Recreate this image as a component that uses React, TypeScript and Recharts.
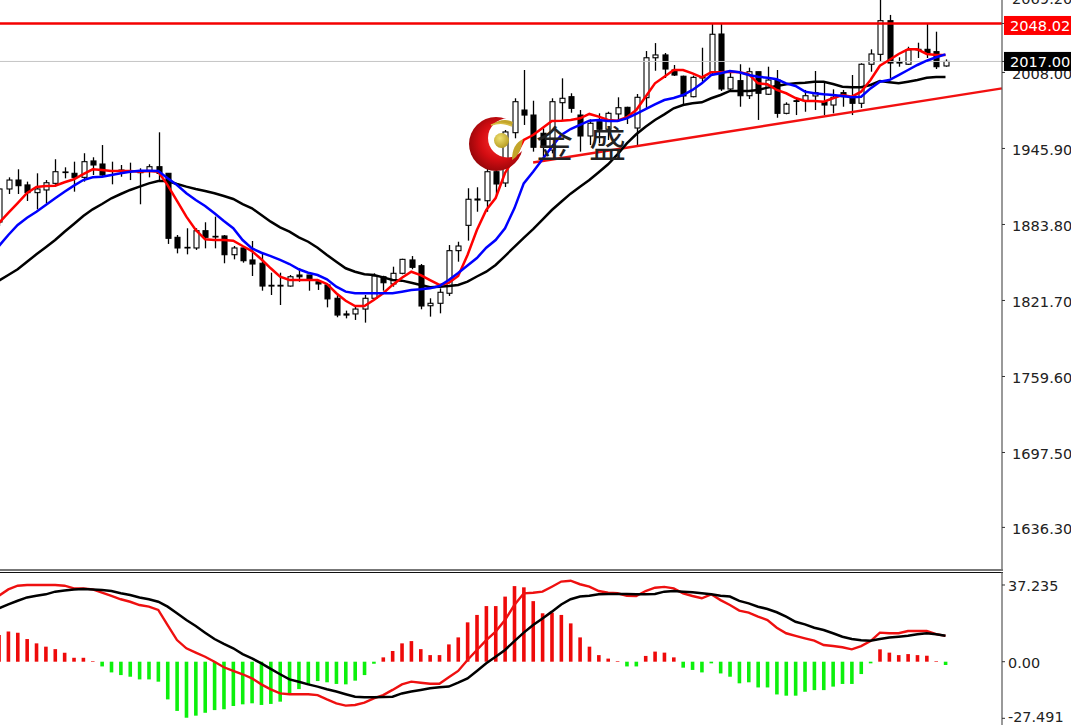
import React from "react";
import { ComposedChart, Bar, Line, XAxis, YAxis, ReferenceLine, Cell } from "recharts";

const highs = [
  1913.6,1922.3,1928.9,1918.8,1925.6,1920.1,1937.1,1930.5,1935.1,1942,
  1938.7,1948.7,1935.1,1932.4,1934.3,1929.7,1933,1959.1,1925.6,1875.2,
  1880.7,1880.7,1885.6,1890.2,1875.2,1866.2,1866.2,1870.3,1859.7,1844.4,
  1844.4,1842.5,1848,1842.5,1838.4,1835.7,1826.2,1813.4,1817.2,1826.2,
  1843.9,1841.9,1849.3,1855.8,1858,1851.5,1823.5,1831.6,1867,1869.7,
  1913.4,1914.2,1931,1939.2,1961,1986.9,2010,1984.9,1962.4,1986.9,
  2003.2,1991,1977.3,1969.7,1974.6,1975.9,1987.7,1980,1990.4,2025.5,
  2032,2023.9,2014.1,2005.4,2005.4,2028.2,2048.4,2048.4,2008.6,2014.7,
  2011.9,2008.6,2012.7,2010,1983.6,1986.9,1993.7,2009.2,1999.6,1994.2,
  1993.7,2005.9,2015.5,2026.9,2072,2055,2020.4,2029,2032.3,2047.6,
  2041.3,2018.7,
];
const opens = [
  1885.8,1912.8,1920.1,1916.1,1909.8,1912,1917.4,1926.4,1925.6,1922.3,
  1935.7,1933.2,1927.7,1928.3,1927.7,1927.7,1927.7,1931,1925.6,1873.3,
  1864.6,1864.6,1878.7,1873.6,1874.4,1859.1,1864.6,1854.8,1852.1,1834.1,
  1834.1,1833.5,1842.5,1842.5,1837,1834.4,1823.5,1810.7,1810.7,1814.7,
  1823.5,1841.1,1835.2,1843.9,1854.8,1850.1,1817.4,1819.4,1827.6,1862.4,
  1883.1,1903.8,1903.2,1926.9,1917.7,1958.8,1977.3,1973.2,1958.3,1944.6,
  1983.3,1988.2,1973.2,1956.1,1967.8,1961.6,1974.1,1979.5,1962.6,1987.4,
  2020,2022.3,2010,2004.9,1988.2,2004.3,2008.1,2039.4,1994.5,2001.3,
  1989,2008.6,1990.2,2001.8,1974.6,1984.9,1984.9,1988.8,1984.1,1981.4,
  1991.5,1987.7,1982.8,2014.7,2022.8,2050.3,2015.7,2014.7,2026.4,2026.9,
  2025,2013.3,
];
const closes = [
  1912.8,1920.1,1915.5,1909.8,1912.8,1917.9,1926.9,1926.7,1922.3,1935.1,
  1932.4,1924.2,1927.2,1927.5,1927.5,1926.1,1931,1925.6,1872.5,1864.6,
  1865.1,1878.7,1873.3,1874.1,1859.1,1864.6,1854.2,1851.5,1833.5,1833.5,
  1833.5,1841.1,1841.1,1838.4,1835.2,1823,1809.8,1809.8,1814.7,1823.5,
  1841.7,1836.2,1843.9,1855.3,1848.8,1817.2,1819.4,1828.4,1862.4,1866.2,
  1904.4,1904.6,1926.9,1916.9,1959.4,1984.1,1973.2,1946.9,1947.3,1984.1,
  1986.9,1978.7,1956.1,1966.5,1961.6,1974.6,1979.2,1971.9,1987.7,2020,
  2022.3,2010.8,2005.9,1988.8,2004,2003.5,2039.2,1994.5,2004,1989,
  2008.6,1991,2001.8,1974.6,1982,1984.3,1989,1991.5,1981.4,1987.7,
  1988.2,1982.8,2014.7,2023.1,2050.3,2015.7,2016.5,2026.4,2026.9,2023.7,
  2012.7,2017,
];
const lows = [
  1882.6,1908.7,1908.7,1903,1896.2,1901.1,1914.7,1921.5,1910.6,1918.8,
  1924.2,1922.8,1916.6,1922.8,1920.1,1900.3,1922.3,1918.8,1867.9,1860.2,
  1859.4,1863,1864.3,1864.3,1852.1,1855.3,1852.6,1841.7,1829.7,1826.2,
  1818,1833,1837,1829.7,1830.3,1816.1,1808,1807.1,1805.8,1803.6,
  1822.7,1829.7,1833,1843.1,1847.2,1814.5,1808.5,1811.2,1825.4,1853.4,
  1870.6,1894.2,1894.2,1907.9,1914.4,1954.2,1965.1,1943.3,1939.2,1941.9,
  1969.2,1975.1,1943.3,1948.7,1950.1,1952.8,1969.2,1965.9,1948.7,1979,
  2009.4,2003.5,2005.1,1980.8,1987.7,2000.4,2006.7,1992.9,1992.9,1980,
  1986.3,1969.2,1989.6,1971,1973.8,1973.2,1975.9,1977.3,1973.2,1974.6,
  1980,1973.2,1979,2008.6,2016.8,2003.5,2012.7,2014.1,2019.8,2019.8,
  2010.8,2012.7,
];
const maFast = [
  1885,1893.2,1901.3,1909.5,1914.4,1915.2,1915.5,1918.3,1920.7,1925,
  1928.9,1928.3,1927.5,1927.5,1927.5,1926.9,1927.5,1926.9,1916,1903,
  1890.2,1879.3,1871.7,1871.1,1871.1,1870.6,1866.2,1862.1,1855.4,1848,
  1841.1,1838.4,1838.4,1838.4,1838.4,1835.2,1827.6,1821.5,1817.2,1817.2,
  1822.1,1827.6,1834.4,1840.3,1845.2,1842.5,1838.4,1834.4,1836.2,1841.7,
  1858.9,1879.3,1895.6,1905.4,1925.9,1938.1,1952.8,1956.9,1962.6,1968.3,
  1968.6,1969.2,1970.5,1974.1,1971.9,1969.2,1968.6,1971.4,1977.3,1988.2,
  1999.1,2004.5,2010,2010,2007.3,2004,2008.1,2008.1,2008.6,2008.1,
  2006.7,1999.1,1998.3,1993.7,1991,1987.1,1984.7,1984.7,1984.1,1986.9,
  1989.6,1988.2,1992.3,2001.8,2013.5,2018.2,2023.1,2026.9,2026.9,2023.1,
  2022.3,2022.3,
];
const maMid = [
  1866.2,1875.2,1883.4,1889.3,1894.2,1899.7,1905.2,1910.6,1915.5,1920.1,
  1922.3,1922.8,1924.2,1925.6,1926.9,1927.7,1927.7,1927.5,1921.5,1916,
  1909.3,1903.8,1898.9,1892.9,1886.6,1880.7,1871.1,1864.3,1860.7,1858,
  1854.8,1851.5,1847.2,1844.4,1842.5,1839,1833,1828.9,1827.6,1827.6,
  1827.6,1827.6,1827.6,1828.9,1830.3,1830.8,1831.6,1833.5,1838.4,1844.2,
  1850.3,1856.4,1864.8,1871.1,1880.7,1897,1917.4,1926.9,1937,1947.3,
  1956.9,1961.8,1965.1,1968.6,1969.2,1968.3,1968.3,1970.5,1974.1,1978.1,
  1982,1985.5,1987.1,1989.6,1993.7,1999.1,2005.9,2007.3,2009.2,2008.1,
  2005.9,2004.5,2003.7,2002.4,1999.1,1997,1992.3,1991,1990.2,1989.6,
  1988.8,1987.7,1988.2,1995,2000.4,2001.8,2005.9,2010,2014.1,2017.6,
  2020.4,2022.8,
];
const maSlow = [
  1837.9,1842.5,1847.2,1853.4,1859.4,1865.2,1871.1,1877.9,1884.2,1890.7,
  1896.2,1900.5,1905.2,1908.7,1912,1914.7,1917.4,1919.3,1919.3,1916.9,
  1914.7,1912.8,1911.2,1909.3,1907.1,1904.6,1900.5,1897,1891.5,1886.1,
  1881.5,1877.9,1873.3,1869.7,1864.8,1858.9,1853.4,1848,1845.2,1843.1,
  1842.5,1840.6,1838.4,1837.9,1836.2,1834.4,1832.5,1833,1833.5,1834.4,
  1837.1,1841.3,1845.2,1850.7,1858,1865.5,1872.8,1880,1887.8,1895.6,
  1902.4,1909,1914.7,1920.1,1926.5,1933,1941,1950.1,1957.5,1963.7,
  1969.2,1973.8,1978.7,1981.4,1982.8,1983.6,1986.9,1989.6,1992.9,1992.9,
  1992.9,1993.7,1995.6,1996.9,1998.3,1999.1,1999.6,2000.4,2000.4,1998.6,
  1996.4,1995.9,1995.9,1997.8,2001,2000,1999.1,2000.4,2001.8,2003.7,
  2004.3,2004.3,
];
const histogram = [
  12.9,14.6,14.1,11,8.9,7.3,6.1,4.4,1.9,1.9,
  0.3,-2.3,-5.2,-6.5,-7.3,-8.6,-8.6,-9.7,-18.3,-23.9,
  -27.2,-26.2,-24.8,-23.5,-23.1,-21.5,-20.7,-20.2,-21,-20.5,
  -19.4,-15.4,-13.3,-11,-9.4,-10,-10.8,-11,-9.2,-6.5,
  -1,2.1,5.2,8.9,10,6.1,3.2,3.2,8.4,11.8,
  19.1,22.7,27,27,31.6,36.7,36.1,29.4,23.5,23.8,
  22.7,18.6,11.8,7.3,3.2,1.5,0.3,-2.3,-2.3,2.8,
  4.9,4.4,2.1,-2.9,-4,-5.2,-0.8,-5.7,-7.3,-10.5,
  -10,-12.5,-12.5,-15.9,-16.5,-16.5,-14.6,-13.8,-13.8,-12.1,
  -10.8,-10.8,-6,-0.8,6,4.4,3.2,3.7,3.2,2.9,
  0.3,-1.6,
];
const macdFast = [
  32.05,35.1,36.9,37.2,37.2,37.2,37.2,36.9,35.6,35.6,
  35.1,33.5,31.9,30.3,29.1,27.5,26.7,25.1,17.8,10.5,
  6.5,4.4,2.4,0,-2.7,-4.5,-6.1,-8.1,-11,-13.4,
  -15.4,-15.8,-15.8,-15.8,-16.2,-18.3,-20.2,-21.3,-21,-19.9,
  -17.8,-16.2,-13.7,-11,-9.7,-10.2,-10.7,-10.7,-7.6,-4.5,
  0.8,5.7,10.5,14.6,20.2,27.5,33.2,33.5,34,36.4,
  38.9,39.3,37.6,36.4,34.3,33.5,33.2,32,31.9,34.3,
  35.9,36.3,35.6,33.2,31.9,30.8,32.7,29.9,27.5,24.8,
  23.8,21.9,20.2,16.5,13.8,12.5,11.3,10.2,8.1,7.6,
  7,6,7.6,10,14.1,13.8,13.8,14.9,14.9,14.9,
  13.4,12.5,
];
const macdSlow = [
  25.9,27.8,29.6,31.2,32,32.7,34,34.6,35.1,35.3,
  35.1,34.8,34.3,33.2,32.4,31.2,30.3,29.1,26.7,23.5,
  20.2,17.3,14.1,11,8.6,6.5,3.7,1.6,-0.8,-3.5,
  -6.1,-8.6,-9.7,-11,-12.1,-13.4,-14.5,-15.8,-17,-17.3,
  -17.3,-17.1,-17,-15.4,-14.5,-13.7,-12.9,-12.4,-12.1,-10.2,
  -8.1,-4.5,-0.8,2.4,5.7,10,14.1,17.8,21,24.3,
  27.8,30.3,31.6,32,32.7,32.9,32.9,32.9,32.7,32.7,
  32.9,34,34.3,34,33.7,33.2,32.7,32,31.6,29.5,
  28.3,26.7,25.6,24,21.9,19.4,18.1,16.5,15.4,13.8,
  12.1,11,10.4,10.2,11,11.7,12.1,12.6,13.3,13.8,
  13.3,12.6,
];

const priceTicks = [2069.2, 2008, 1945.9, 1883.8, 1821.7, 1759.6, 1697.5, 1636.3];
const resistanceLevel = 2048.02;
const lastPrice = 2017;
const macdTicks = [37.235, 0, -27.491];
const trendStart = { x: 56, y: 1934.5 };
const trendEnd = { x: 106.03, y: 1995 };

const rows = highs.map((h, i) => ({
  k: i - 1,
  high: h,
  low: lows[i],
  open: opens[i],
  close: closes[i],
  range: [lows[i], h],
  fast: maFast[i],
  mid: maMid[i],
  slow: maSlow[i],
}));
const macdRows = histogram.map((h, i) => ({
  k: i - 1,
  hist: h,
  fast: macdFast[i],
  slow: macdSlow[i],
}));

const FONT = "'DejaVu Sans', sans-serif";
const xDomain: [number, number] = [-0.886, 106.03];

function Candle(props: any) {
  const { x, y, width, height, payload } = props;
  const { high, low, open, close } = payload;
  const py = (v: number) => y + ((high - v) / (high - low)) * height;
  const cx = Math.round(x + width / 2) + 0.5;
  const top = py(Math.max(open, close));
  const bot = py(Math.min(open, close));
  return (
    <g>
      <line x1={cx} x2={cx} y1={y} y2={y + height} stroke="#000" strokeWidth={1.3} />
      <rect
        x={cx - 2.5}
        y={top}
        width={5}
        height={Math.max(bot - top, 0.6)}
        fill={close >= open ? "#fff" : "#000"}
        stroke="#000"
        strokeWidth={1.1}
      />
    </g>
  );
}

function PriceTick(props: any) {
  const { x, y, payload } = props;
  const v = payload.value;
  if (v === resistanceLevel || v === lastPrice) {
    const isRes = v === resistanceLevel;
    return (
      <g>
        <rect x={1004} y={isRes ? y - 7.5 : y - 9.5} width={67} height={19} fill={isRes ? "#ff0000" : "#000"} />
        <text x={1010} y={isRes ? y + 8 : y + 5.5} fontFamily={FONT} fontSize={14.6} fill="#fff">
          {v.toFixed(2)}
        </text>
      </g>
    );
  }
  return (
    <text x={x + 5} y={y + 6.5} fontFamily={FONT} fontSize={14.6} fill="#222">
      {v.toFixed(2)}
    </text>
  );
}

function MacdTick(props: any) {
  const { x, y, payload } = props;
  const v = payload.value;
  return (
    <text x={x + 1} y={v < -1 ? y + 4 : y + 6} fontFamily={FONT} fontSize={14.4} fill="#222">
      {v === 0 ? "0.00" : v.toFixed(3)}
    </text>
  );
}

function Logo() {
  return (
    <svg width={1071} height={725} style={{ position: "absolute", left: 0, top: 0, pointerEvents: "none" }}>
      <defs>
        <radialGradient id="ballRed" cx="55%" cy="45%" r="62%">
          <stop offset="0%" stopColor="#ff3030" />
          <stop offset="55%" stopColor="#d40d12" />
          <stop offset="100%" stopColor="#8a0508" />
        </radialGradient>
        <radialGradient id="ballGold" cx="40%" cy="35%" r="70%">
          <stop offset="0%" stopColor="#efe070" />
          <stop offset="100%" stopColor="#b59a20" />
        </radialGradient>
        <mask id="cres">
          <rect x={440} y={100} width={120} height={100} fill="#fff" />
          <circle cx={507.5} cy={138} r={19.5} fill="#000" />
        </mask>
      </defs>
      <circle cx={496} cy={144} r={27} fill="url(#ballRed)" mask="url(#cres)" />
      <path d="M491 125 Q503 117 513 122 Q512 126 511 126 Q503 122 491 125 Z" fill="#c3a52a" />
      <path d="M491 125 Q502 121 512 126" fill="none" stroke="#d7bc45" strokeWidth={1.5} />
      <path d="M512 160 Q521 155 523 139 Q512 144 512 160 Z" fill="#c3a52a" />
      <circle cx={501.5} cy={140.5} r={7.5} fill="url(#ballGold)" />
      <text x={536} y={158} fontFamily="'Noto Sans CJK SC'" fontSize={37} fill="#222" >金</text>
      <text x={589} y={158} fontFamily="'Noto Sans CJK SC'" fontSize={37} fill="#222" >盛</text>
    </svg>
  );
}

export default function App() {
  return (
    <div style={{ position: "absolute", left: 0, top: 0, width: 1071, height: 725, overflow: "hidden", background: "#fff" }}>
      <div style={{ position: "absolute", left: 0, top: -10 }}>
        <ComposedChart width={1071} height={580} data={rows} margin={{ top: 7.55, right: 0, bottom: 0, left: 0 }}>
          <XAxis dataKey="k" type="number" domain={xDomain} allowDataOverflow hide />
          <YAxis
            orientation="right"
            width={69}
            domain={[1601.5, 2069.2]}
            allowDataOverflow
            ticks={[...priceTicks, lastPrice, resistanceLevel]}
            interval={0}
            tickSize={3}
            tickLine={{ stroke: "#333" }}
            axisLine={{ stroke: "#555", strokeWidth: 1.2 }}
            tick={<PriceTick />}
          />
          <Bar dataKey="range" barSize={6} shape={<Candle />} isAnimationActive={false} />
          <ReferenceLine y={lastPrice} stroke="#c4c4c4" strokeWidth={1} />
          <ReferenceLine y={resistanceLevel} stroke="#f40000" strokeWidth={2.4} />
          <ReferenceLine segment={[trendStart, trendEnd]} stroke="#f21010" strokeWidth={2.5} ifOverflow="visible" />
          <Line dataKey="slow" stroke="#000" strokeWidth={2.5} dot={false} type="linear" isAnimationActive={false} />
          <Line dataKey="fast" stroke="#ff0000" strokeWidth={2.5} dot={false} type="linear" isAnimationActive={false} />
          <Line dataKey="mid" stroke="#0000ff" strokeWidth={2.5} dot={false} type="linear" isAnimationActive={false} />
        </ComposedChart>
      </div>
      <div style={{ position: "absolute", left: 0, top: 569, width: 1003, height: 2, background: "#777" }} />
      <div style={{ position: "absolute", left: 0, top: 571.5, width: 1003, height: 1, background: "#111" }} />
      <div style={{ position: "absolute", left: 0, top: 572 }}>
        <ComposedChart width={1071} height={153} data={macdRows} margin={{ top: 0, right: 0, bottom: 0, left: 0 }}>
          <XAxis dataKey="k" type="number" domain={xDomain} allowDataOverflow hide />
          <YAxis
            orientation="right"
            width={69}
            domain={[-30.73, 43.54]}
            allowDataOverflow
            ticks={macdTicks}
            interval={0}
            tickSize={3}
            tickLine={{ stroke: "#333" }}
            axisLine={{ stroke: "#555", strokeWidth: 1.2 }}
            tick={<MacdTick />}
          />
          <Bar dataKey="hist" barSize={3.6} isAnimationActive={false}>
            {macdRows.map((r) => (
              <Cell key={r.k} fill={r.hist >= 0 ? "#ee0a0a" : "#0cf00c"} />
            ))}
          </Bar>
          <Line dataKey="fast" stroke="#ee1010" strokeWidth={2.4} dot={false} type="linear" isAnimationActive={false} />
          <Line dataKey="slow" stroke="#000" strokeWidth={2.5} dot={false} type="linear" isAnimationActive={false} />
        </ComposedChart>
      </div>
      <Logo />
    </div>
  );
}
